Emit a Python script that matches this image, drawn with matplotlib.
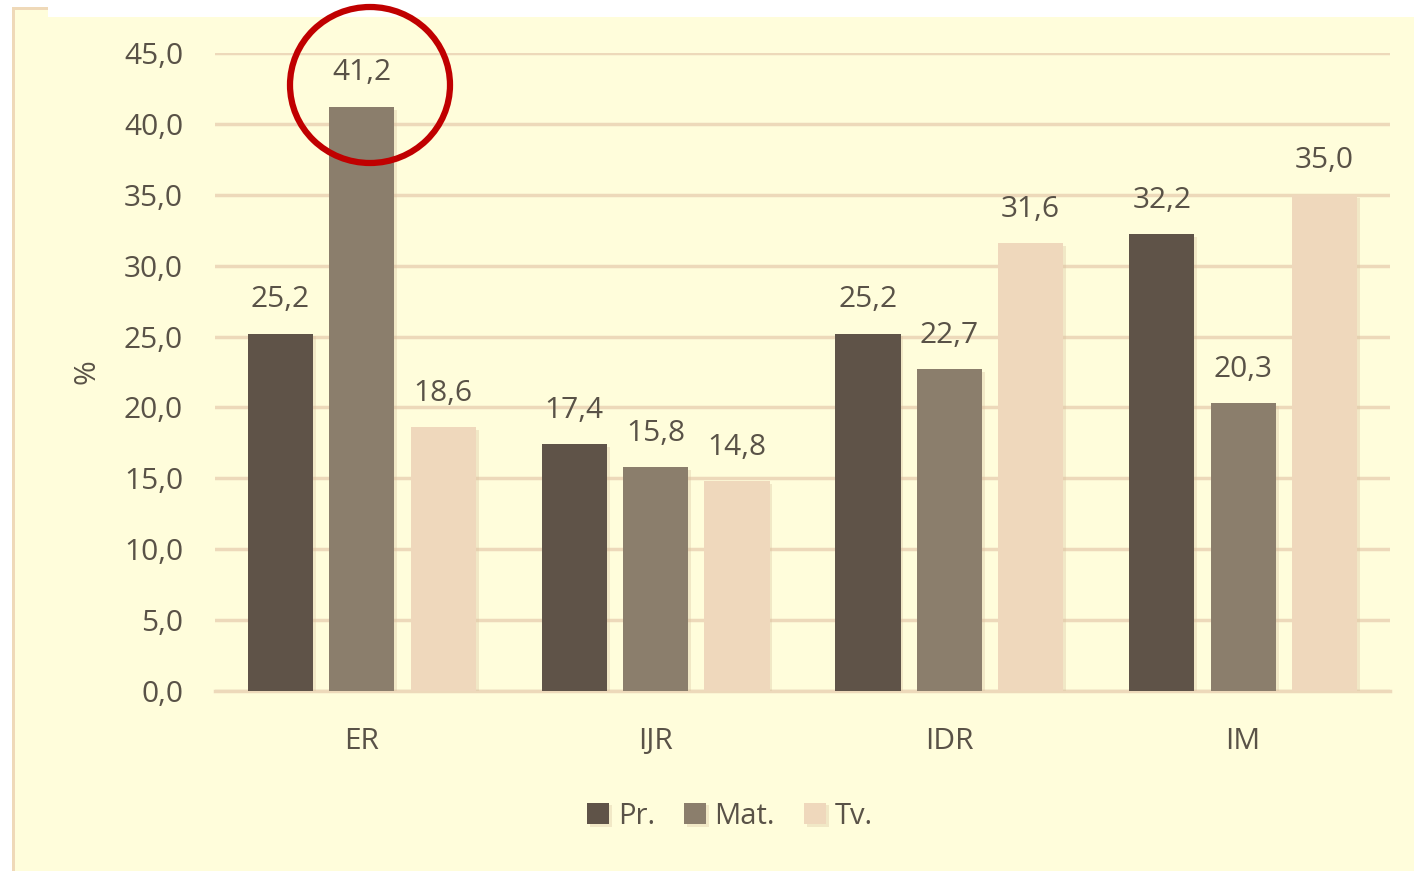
import matplotlib
matplotlib.use("Agg")
import matplotlib.pyplot as plt
from matplotlib.patches import Rectangle, Ellipse
import matplotlib.patheffects as pe
import numpy as np

categories = ["ER", "IJR", "IDR", "IM"]
series_names = ["Pr.", "Mat.", "Tv."]
pr_values = [25.2, 17.4, 25.2, 32.2]
mat_values = [41.2, 15.8, 22.7, 20.3]
tv_values = [18.6, 14.8, 31.6, 35.0]
y_ticks = [0, 5, 10, 15, 20, 25, 30, 35, 40, 45]

colors = ["#5F5348", "#8B7E6C", "#EFD8BC"]
bg = "#FFFDDB"
grid_c = "#EDD9BA"
text_c = "#595247"

plt.rcParams['font.family'] = ['Open Sans', 'DejaVu Sans']

W, H = 1414, 871
fig = plt.figure(figsize=(W / 100, H / 100), dpi=100)
fig.patch.set_facecolor("white")

def px(x0, y0, w, h, **kw):
    return Rectangle((x0 / W, 1 - (y0 + h) / H), w / W, h / H,
                     transform=fig.transFigure, **kw)

fig.patches.append(px(13, 17, W - 13, H - 17, facecolor=bg, edgecolor="none", zorder=-10))
fig.patches.append(px(13, 8, 35, 10, facecolor=bg, edgecolor="none", zorder=-10))
fig.patches.append(px(12, 8, 3, H - 8, facecolor="#EFD9B8", edgecolor="none", zorder=-9))
fig.patches.append(px(12, 7, 36, 3, facecolor="#EFD9B8", edgecolor="none", zorder=-9))

ax = fig.add_axes([215 / W, 1 - 691 / H, (1390 - 215) / W, (691 - 53) / H])
ax.set_zorder(2)
ax.set_facecolor("none")
ax.set_xlim(-0.5, 3.5)
ax.set_ylim(0, 45)

FS = 21.5
x = np.arange(len(categories))
pitch = 0.277
width = 0.222
all_vals = [pr_values, mat_values, tv_values]
for i, (vals, name, c) in enumerate(zip(all_vals, series_names, colors)):
    pos = x + (i - 1) * pitch
    bars = ax.bar(pos, vals, width=width, color=c, label=name, zorder=3,
                  path_effects=[pe.withSimplePatchShadow(offset=(2, -2), shadow_rgbFace="#D9C3A0", alpha=0.35)])
    for b, v in zip(bars, vals):
        ax.annotate(f"{v:.1f}".replace(".", ","), (b.get_x() + b.get_width() / 2, v),
                    xytext=(0, 14), textcoords="offset points", ha="center", va="bottom",
                    fontsize=FS, color=text_c, zorder=4)

ax.set_yticks(y_ticks)
ax.set_yticklabels([f"{t:.1f}".replace(".", ",") for t in y_ticks], fontsize=FS, color=text_c)
ax.set_xticks(x)
ax.set_xticklabels(categories, fontsize=FS, color=text_c)
ax.tick_params(axis="y", length=0, pad=23)
ax.tick_params(axis="x", length=0, pad=26)
ax.yaxis.grid(True, color=grid_c, linewidth=2.5, zorder=0)
ax.set_axisbelow(True)
for s in ["top", "right", "left"]:
    ax.spines[s].set_visible(False)
ax.spines["bottom"].set_color(grid_c)
ax.spines["bottom"].set_linewidth(2.5)

ax.set_ylabel("%", fontsize=FS, color=text_c, labelpad=16)

leg = fig.legend(loc="center", bbox_to_anchor=(730 / W, 1 - 816 / H), ncol=3, frameon=False,
                 fontsize=21, handlelength=0.75, handleheight=0.75, handletextpad=0.3,
                 columnspacing=1.0, labelcolor=text_c)

# red highlight circle
circ = Ellipse((370 / W, 1 - 85 / H), 160 / W, 156 / H, transform=fig.transFigure,
               facecolor="none", edgecolor="#C00000", linewidth=4.5, zorder=10)
fig.patches.append(circ)

fig.savefig("out.png", dpi=100, facecolor=fig.get_facecolor())
